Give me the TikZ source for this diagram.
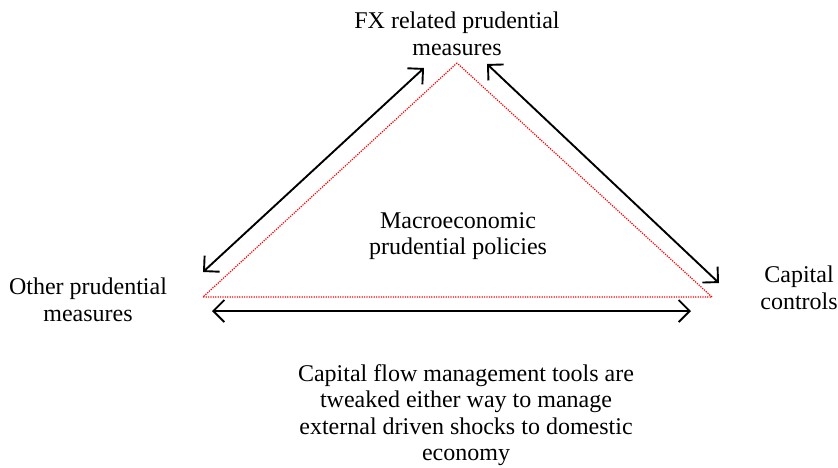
\documentclass[tikz,border=0pt]{standalone}
\usepackage{fontspec}
\setmainfont{Liberation Serif}
\usetikzlibrary{arrows.meta}
\begin{document}
\begin{tikzpicture}[x=1pt,y=-1pt,
  lbl/.style={align=center,font=\fontsize{24}{26.5}\selectfont,inner sep=0pt},
  dbl/.style={line width=1.9pt,{Straight Barb[length=11pt,width=22pt,line width=1.9pt]}-{Straight Barb[length=11pt,width=22pt,line width=1.9pt]}},
  tri/.style={red,dotted,line width=1.2pt,dash pattern=on 1.2pt off 1.2pt}]
\useasboundingbox (0,0) rectangle (838,467);
% triangle
\coordinate (apex) at (457,63);
\coordinate (bl) at (203,297);
\coordinate (br) at (712,297);
\draw[tri] (apex) -- (bl) -- (br) -- cycle;
% arrow ends
\coordinate (l1) at (424,68);
\coordinate (l2) at (203,272);
\coordinate (r1) at (487,64);
\coordinate (r2) at (719,283);
\coordinate (b1) at (212,311);
\coordinate (b2) at (691,311);
\draw[dbl] (l1) -- (l2);
\draw[dbl] (r1) -- (r2);
\draw[dbl] (b1) -- (b2);
% labels
\node[lbl] (fx) at (457,34) {FX related prudential\\measures};
\node[lbl] (other) at (88,300) {Other prudential\\measures};
\node[lbl] (cap) at (799,288) {Capital\\controls};
\node[lbl] (macro) at (458,236) {Macroeconomic\\prudential policies};
\node[lbl] (note) at (466,415) {Capital flow management tools are\\tweaked either way to manage\\external driven shocks to domestic\\economy};
\end{tikzpicture}
\end{document}
